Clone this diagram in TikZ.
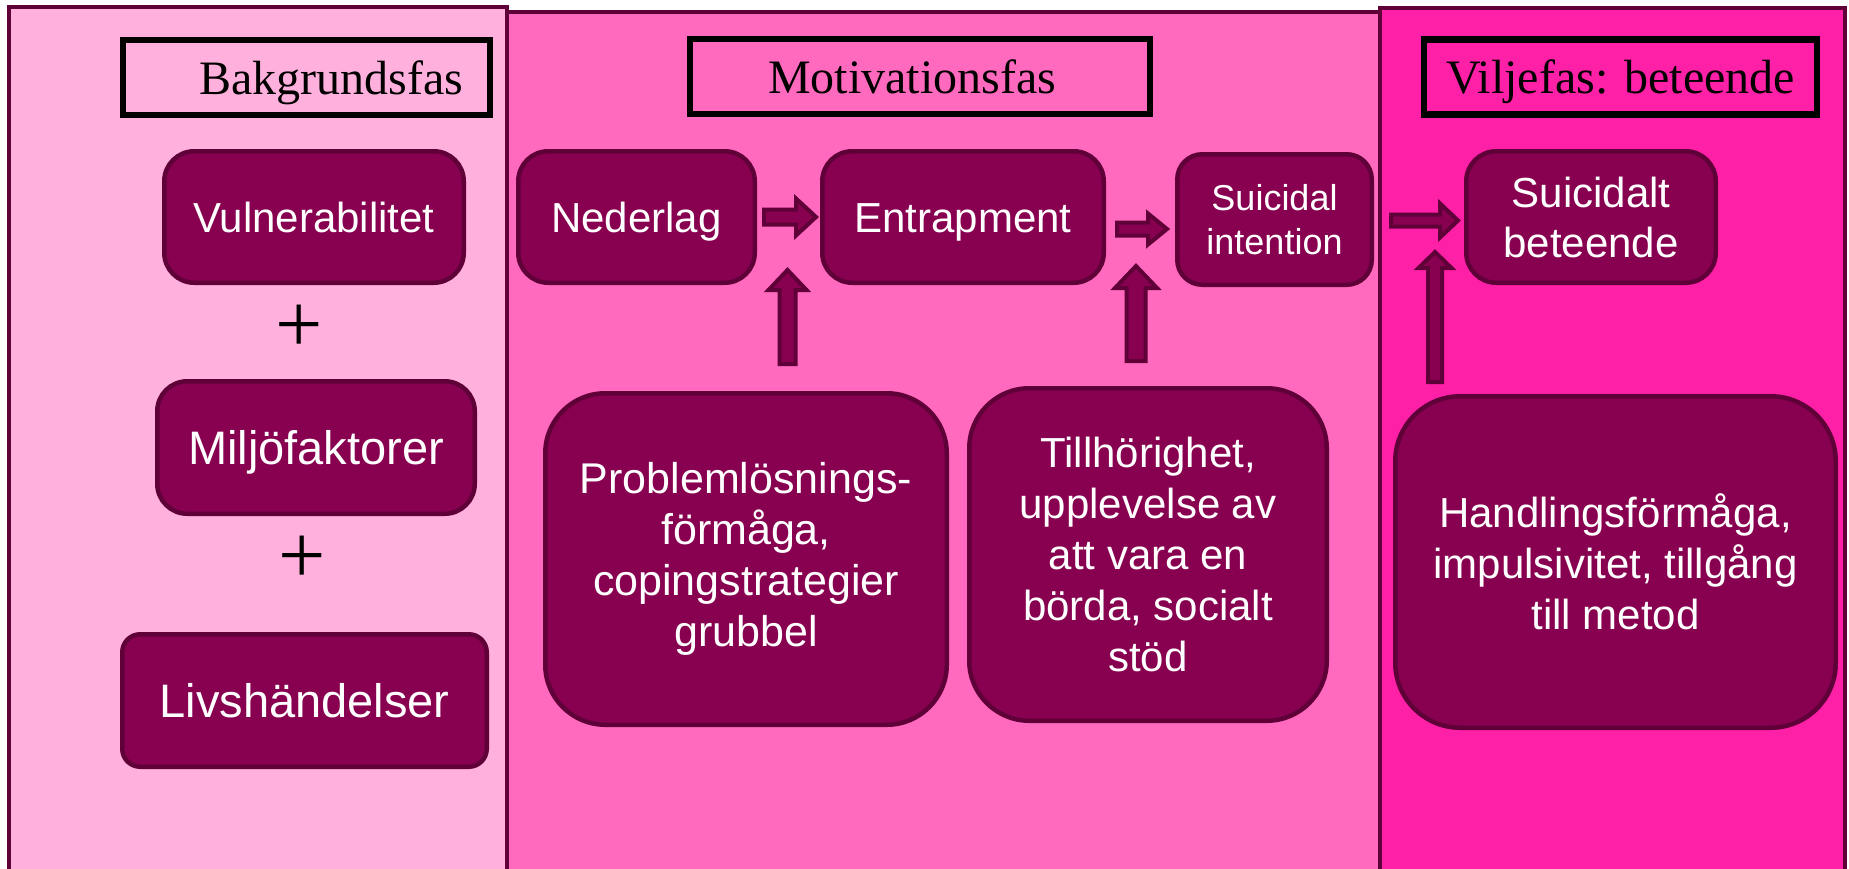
\documentclass[tikz,border=0pt]{standalone}
\usepackage{fontspec}
\setmainfont{Liberation Serif}
\newfontfamily\arialf{Liberation Sans}
\usetikzlibrary{calc}
\definecolor{pA}{RGB}{255,176,220}
\definecolor{pB}{RGB}{255,105,190}
\definecolor{pC}{RGB}{255,32,168}
\definecolor{boxfill}{RGB}{136,0,80}
\definecolor{boxline}{RGB}{96,0,56}
\tikzset{
  panel/.style={draw=boxline, line width=4.5pt},
  titlebox/.style={draw=black, line width=6.5pt, minimum height=75pt, inner ysep=0pt, inner xsep=0pt,
    font=\fontsize{48}{58}\selectfont, text height=33pt, text depth=0pt},
  box/.style={draw=boxline, fill=boxfill, line width=4.5pt, text=white, align=center, inner sep=0pt, rounded corners=30pt},
  oneline/.style={text height=#1, text depth=0pt},
  barrow/.style={draw=boxline, fill=boxfill, line width=4pt, line join=miter},
  plussign/.style={font=\fontsize{84}{84}\selectfont, inner sep=0pt}
}
\newcommand{\rarr}[5]{\draw[barrow] let \p1=#1, \p2=#2 in
  (\x1,{\y1+#3}) -- ({\x2-#5},{\y1+#3}) -- ({\x2-#5},{\y1+#4}) -- (\x2,\y1) --
  ({\x2-#5},{\y1-#4}) -- ({\x2-#5},{\y1-#3}) -- (\x1,{\y1-#3}) -- cycle;}
\newcommand{\uarr}[5]{\draw[barrow] let \p1=#1, \p2=#2 in
  ({\x1-#3},\y1) -- ({\x1-#3},{\y2-#5}) -- ({\x1-#4},{\y2-#5}) -- (\x1,\y2) --
  ({\x1+#4},{\y2-#5}) -- ({\x1+#3},{\y2-#5}) -- ({\x1+#3},\y1) -- cycle;}
\begin{document}
\begin{tikzpicture}[x=1pt, y=-1pt]
\clip (0,0) rectangle (1849,868);
\fill[white] (0,0) rectangle (1849,868);
% panels
\draw[panel, fill=pB] (507,12) rectangle (1380,890);
\draw[panel, fill=pA] (9,7) rectangle (507,890);
\draw[panel, fill=pC] (1380,8) rectangle (1845,890);
% titles
\node[titlebox, inner xsep=27pt, text width=313pt, align=right] (tbak) at (306.5,77.5) {Bakgrundsfas};
\node[titlebox, inner xsep=78pt, text width=304pt, align=left] (tmot) at (920,76.5) {Motivationsfas};
\node[titlebox, minimum width=393pt] (tvil) at (1620.5,77) {Viljefas: beteende};
% left column
\node[box, oneline=30pt, minimum width=299.5pt, minimum height=131.5pt, font=\arialf\fontsize{42}{50}\selectfont] (vul) at (314,217) {Vulnerabilitet};
\node[box, oneline=34pt, minimum width=317.5pt, minimum height=132.5pt, font=\arialf\fontsize{47}{56}\selectfont] (milj) at (316,447.5) {Miljöfaktorer};
\node[box, oneline=34pt, rounded corners=18pt, minimum width=364.5pt, minimum height=132.5pt, font=\arialf\fontsize{47}{56}\selectfont] (livs) at (304.5,700.5) {Livshändelser};
\node[plussign] (plus1) at (299,329) {+};
\node[plussign] (plus2) at (302,560) {+};
% middle
\node[box, oneline=30pt, minimum width=236.5pt, minimum height=131.5pt, font=\arialf\fontsize{42}{50}\selectfont] (ned) at (636.5,217) {Nederlag};
\node[box, oneline=30pt, minimum width=281.5pt, minimum height=131.5pt, font=\arialf\fontsize{42}{50}\selectfont] (ent) at (963,217) {Entrapment};
\node[box, rounded corners=25pt, minimum width=194.5pt, minimum height=130.5pt, font=\arialf\fontsize{36}{44}\selectfont] (sint) at (1274.5,219.5) {Suicidal\\intention};
\node[box, rounded corners=60pt, minimum width=401.5pt, minimum height=331.5pt, font=\arialf\fontsize{43}{51}\selectfont] (prob) at (746,559) {Problemlösnings-\\förmåga,\\copingstrategier\\grubbel};
\node[box, rounded corners=60pt, minimum width=357.5pt, minimum height=332.5pt, font=\arialf\fontsize{42}{51}\selectfont] (till) at (1148,554.5) {Tillhörighet,\\upplevelse av\\att vara en\\börda, socialt\\stöd};
% right
\node[box, minimum width=249.5pt, minimum height=131.5pt, font=\arialf\fontsize{42}{50}\selectfont] (sbet) at (1591,217) {Suicidalt\\beteende};
\node[box, rounded corners=65pt, minimum width=440.5pt, minimum height=331.5pt, font=\arialf\fontsize{42}{51}\selectfont] (hand) at (1615.5,562) {Handlingsförmåga,\\impulsivitet, tillgång\\till metod};
% block arrows
\rarr{($(ned.east)+(7,0)$)}{($(ent.west)+(-4,0)$)}{7.5pt}{18.5pt}{20pt}
\rarr{($(ent.east)+(11,12)$)}{($(sint.west)+(-8,0)$)}{6.5pt}{15.5pt}{19pt}
\rarr{($(sint.east)+(17,1)$)}{($(sbet.west)+(-6,0)$)}{6pt}{17pt}{18pt}
\uarr{($(prob.north)+(41.5,-27)$)}{($(ent.south)+(0,-15)$)}{8pt}{19pt}{20pt}
\uarr{($(till.north)+(-12,-25)$)}{($(sint.south)+(0,-21)$)}{9.5pt}{21pt}{22pt}
\uarr{($(hand.north)+(-180.5,-12)$)}{($(sbet.south)+(0,-33)$)}{7pt}{16.5pt}{16pt}
\end{tikzpicture}
\end{document}
